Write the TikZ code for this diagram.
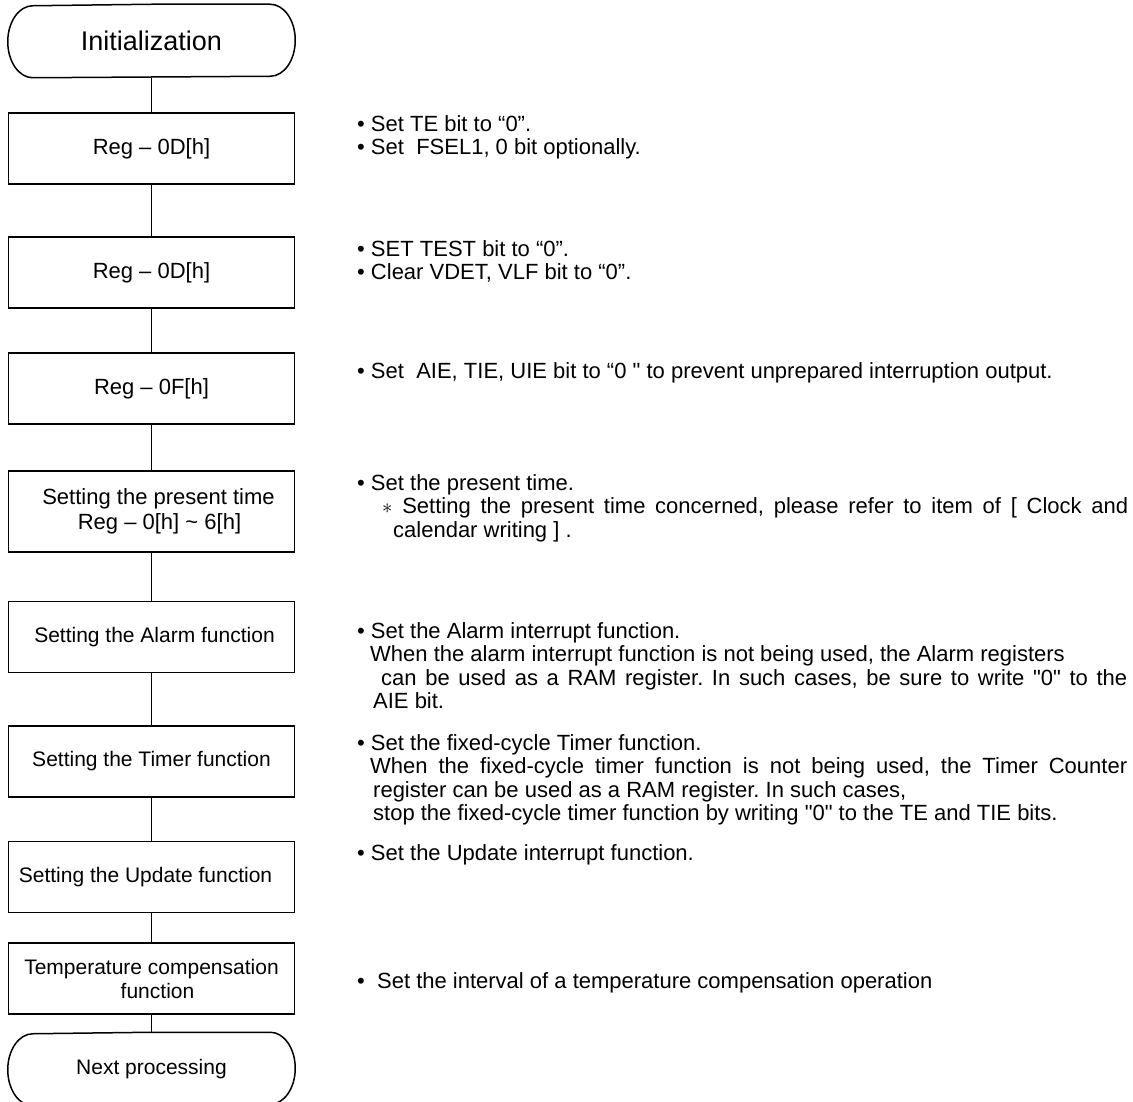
\documentclass[tikz,border=0pt]{standalone}
\usepackage{fontspec}
\setmainfont{Liberation Sans}
\newfontfamily\plainfont{Liberation Sans}
\usepackage{tikz}
\usetikzlibrary{positioning}
\frenchspacing

\newcommand{\drawterminal}[1]{%
    \draw[line width=1.5pt, line join=round] (#1.north) -- ([xshift=-25pt]#1.north east)
        arc[start angle=90, end angle=-90, x radius=25pt, y radius=36pt]
        -- ([xshift=25pt]#1.south west)
        arc[start angle=270, end angle=90, x radius=25pt, y radius=36pt] -- cycle;}

\begin{document}
\begin{tikzpicture}[x=1pt, y=-1pt, every node/.style={align=center}]
        \useasboundingbox (0,0) rectangle (1133,1102);
        \def\boxwidth{286pt}
        \def\boxheight{71pt}
        \def\colx{151.5}
        \def\notex{357}
        % flow chart
        \begin{scope}[every node/.style={align=center, draw, line width=1.5pt, inner sep=0pt, minimum width=\boxwidth, minimum height=\boxheight, font=\fontsize{22}{25}\selectfont}]
            \node[draw=none, minimum height=72pt, font=\fontsize{27}{30}\selectfont] (init) at (\colx,41) {Initialization};
            \node (regA) at (\colx,148.5) {Reg -- 0D[h]};
            \node (regB) at (\colx,272.5) {Reg -- 0D[h]};
            \node (regC) at (\colx,388.5) {Reg -- 0F[h]};
            \node[minimum height=81pt] (present) at (\colx,511.5) {\hspace*{14pt}Setting the present time\\ \hspace*{16pt}Reg -- 0[h] \textasciitilde{} 6[h]};
            \node[font=\fontsize{21}{24}\selectfont] (alarm) at (\colx,637) {\hspace*{6pt}Setting the Alarm function};
            \node[font=\fontsize{21}{24}\selectfont] (timer) at (\colx,761.5) {Setting the Timer function};
            \node[font=\fontsize{21}{24}\selectfont] (update) at (\colx,877) {Setting the Update function\hspace*{12pt}};
            \node[font=\fontsize{21}{24}\selectfont] (tcomp) at (\colx,978.5) {Temperature compensation\\ \hspace*{12pt}function};
            \node[draw=none, minimum height=72pt, font=\fontsize{21}{24}\selectfont] (next) at (\colx,1069) {Next processing};
        \end{scope}
        \drawterminal{init}
        \drawterminal{next}
        \begin{scope}[line width=1.5pt]
            \draw (init) -- (regA);
            \draw (regA) -- (regB);
            \draw (regB) -- (regC);
            \draw (regC) -- (present);
            \draw (present) -- (alarm);
            \draw (alarm) -- (timer);
            \draw (timer) -- (update);
            \draw (update) -- (tcomp);
            \draw (tcomp) -- (next);
        \end{scope}
        % notes on the right
        \begin{scope}[every node/.style={anchor=north west, align=left, inner sep=0pt, font=\plainfont\fontsize{22}{23.5}\selectfont}]
            \node (noteA) at (\notex,115) {• Set TE bit to “0”.\\ • Set \ FSEL1, 0 bit optionally.};
            \node (noteB) at (\notex,240) {• SET TEST bit to “0”.\\ • Clear VDET, VLF bit to “0”.};
            \node (noteC) at (\notex,362) {• Set \ AIE, TIE, UIE bit to “0 " to prevent unprepared interruption output.};
            \node (noteD) at (\notex,474) {• Set the present time.\\
                \hspace*{25pt}\makebox[746pt][s]{$\ast$ Setting the present time concerned, please refer to item of [ Clock and}\\
                \hspace*{36pt}calendar writing ] .};
            \node (noteE) at (\notex,622) {• Set the Alarm interrupt function.\\
                \hspace*{13pt}When the alarm interrupt function is not being used, the Alarm registers\\
                \hspace*{24pt}\makebox[746pt][s]{can be used as a RAM register. In such cases, be sure to write "0" to the}\\
                \hspace*{16pt}AIE bit.};
            \node (noteF) at (\notex,734) {• Set the fixed-cycle Timer function.\\
                \hspace*{13pt}\makebox[757pt][s]{When the fixed-cycle timer function is not being used, the Timer Counter}\\
                \hspace*{16pt}register can be used as a RAM register. In such cases,\\
                \hspace*{16pt}stop the fixed-cycle timer function by writing "0" to the TE and TIE bits.};
            \node (noteG) at (\notex,844) {• Set the Update interrupt function.};
            \node (noteH) at (\notex,972) {• \ Set the interval of a temperature compensation operation};
        \end{scope}
    \end{tikzpicture}
\end{document}
